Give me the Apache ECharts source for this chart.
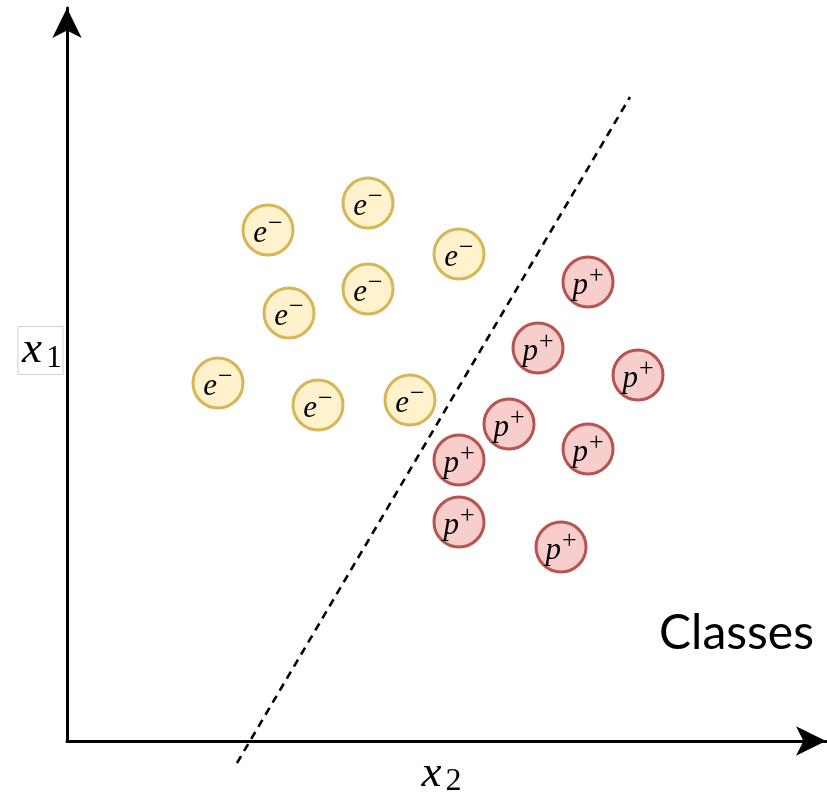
<!DOCTYPE html>
<html>
<head>
<meta charset="utf-8">
<script src="https://cdn.jsdelivr.net/npm/echarts@6/dist/echarts.min.js"></script>
<style>html,body{margin:0;padding:0;background:#fff}#c{width:827px;height:801px}</style>
</head>
<body>
<div id="c"></div>
<script>
// Electron class points [x2, x1]
var electrons = [[201,511],[301,538],[392,487],[301,452],[222,428],[151,358],[251,336],[343,341]];
// Proton class points [x2, x1]
var protons = [[521,459],[471,393],[571,366],[442,317],[521,292],[392,281],[392,219],[494,194]];
// Decision boundary end points
var boundary = [[170,-22],[563,644]];
var tag = 'Classes';

var SERIF = 'Liberation Serif';
var chart = echarts.init(document.getElementById('c'), null, {renderer:'canvas'});
function lbl(base, sup){
  return {
    show:true, position:'inside', fontFamily:SERIF,
    formatter:'{a|'+base+'}{b|'+sup+'}',
    rich:{
      a:{fontFamily:SERIF,fontStyle:'italic',fontSize:31,color:'#000',padding:[8,0,0,0]},
      b:{fontFamily:SERIF,fontSize:26,color:'#000',padding:[0,0,12,1]}
    }
  };
}
function nameRich(){
  return {
    x:{fontFamily:SERIF,fontStyle:'italic',fontSize:45,color:'#000'},
    s:{fontFamily:SERIF,fontSize:32,color:'#000',padding:[16,0,0,4]}
  };
}
chart.setOption({
  animation:false,
  grid:{left:67,right:1,top:8,bottom:60,containLabel:false,outerBoundsMode:'none'},
  xAxis:{type:'value',min:0,max:759,
    axisLine:{show:true,lineStyle:{color:'#000',width:3},symbol:['none','arrow'],symbolSize:[22,30]},
    axisTick:{show:false},axisLabel:{show:false},splitLine:{show:false},
    name:'{x|x}{s|2}',nameLocation:'middle',nameGap:9,
    nameTextStyle:{fontFamily:SERIF,verticalAlign:'top',rich:nameRich(),padding:[0,10,0,0]}
  },
  yAxis:{type:'value',min:0,max:733,
    axisLine:{show:true,lineStyle:{color:'#000',width:3},symbol:['none','arrow'],symbolSize:[22,30]},
    axisTick:{show:false},axisLabel:{show:false},splitLine:{show:false},
    name:'{x|x}{s|1}',nameLocation:'middle',nameGap:4,nameRotate:0,
    nameTextStyle:{fontFamily:SERIF,align:'right',verticalAlign:'bottom',
      borderColor:'#d0d0d0',borderWidth:1,padding:[0,1,0,4],rich:nameRich()}
  },
  title:{text:tag,right:8,top:605,textStyle:{fontFamily:'Lato',fontWeight:'normal',fontSize:48,color:'#000'}},
  series:[
    {type:'line',data:boundary,clip:false,symbol:'none',
      lineStyle:{color:'#000',width:2.6,type:[8,6]}},
    {type:'scatter',data:electrons,symbolSize:50,
      itemStyle:{color:'#fff2cc',borderColor:'#d6b656',borderWidth:3,opacity:1},
      label:lbl('e','−')},
    {type:'scatter',data:protons,symbolSize:50,
      itemStyle:{color:'#f8cecc',borderColor:'#b85450',borderWidth:3,opacity:1},
      label:lbl('p','+')}
  ]
});
</script>
</body>
</html>
